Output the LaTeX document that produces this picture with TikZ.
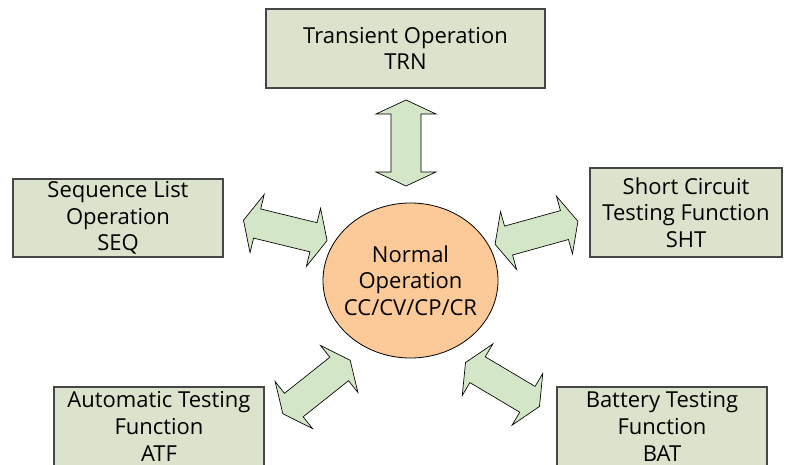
\documentclass[tikz,border=0pt]{standalone}
\usepackage{fontspec}
\setmainfont{Open Sans}
\usetikzlibrary{shapes.geometric}
\definecolor{boxfill}{RGB}{220,227,204}
\definecolor{boxline}{RGB}{70,70,70}
\definecolor{arrowfill}{RGB}{211,231,200}
\definecolor{ovalfill}{RGB}{251,202,152}
\begin{document}
\begin{tikzpicture}[x=0.75pt,y=-0.75pt,
  labeltext/.style={align=center, font=\fontsize{16.5}{20}\selectfont, inner sep=0pt},
  modebox/.style={labeltext, draw=boxline, line width=0.8pt, fill=boxfill},
  core/.style={draw=black, line width=0.6pt, fill=ovalfill, ellipse,
    minimum width=131.25pt, minimum height=116.25pt, inner sep=0pt},
  blockarrow/.pic={
    \draw[draw=black, line width=0.5pt, fill=arrowfill, line join=miter]
      (-43,0) -- (-29,-30) -- (-29,-15) -- (29,-15) -- (29,-30) -- (43,0)
      -- (29,30) -- (29,15) -- (-29,15) -- (-29,30) -- cycle;
  }]
\useasboundingbox (0,0) rectangle (788,464);

% operating modes
\node[modebox, minimum width=209.25pt, minimum height=59.25pt] (trn) at (405.5,48.5)
  {Transient Operation\\TRN};
\node[modebox, minimum width=157.5pt, minimum height=58.5pt] (seq) at (118,218)
  {Sequence List\\Operation\\SEQ};
\node[modebox, minimum width=144pt, minimum height=66.75pt] (sht) at (686,212.5)
  {Short Circuit\\Testing Function\\SHT};
\node[modebox, minimum width=157.5pt, minimum height=59.25pt] (atf) at (159,426.5)
  {Automatic Testing\\Function\\ATF};
\node[modebox, minimum width=157.5pt, minimum height=59.25pt] (bat) at (662,426.5)
  {Battery Testing\\Function\\BAT};

% central mode: fixed-size oval with its label on top
\node[core] (norm) at (410.5,280.5) {};
\node[labeltext] (norm-label) at (norm.center) {Normal\\Operation\\CC/CV/CP/CR};

% two-way links between the central mode and each other mode
\coordinate (l-trn) at (406,143);
\coordinate (l-seq) at (285.3,230.4);
\coordinate (l-sht) at (536.5,232.8);
\coordinate (l-atf) at (316.5,387);
\coordinate (l-bat) at (502.5,384.5);
\pic[rotate=90]   at (l-trn) {blockarrow};
\pic[rotate=-13.7] at (l-seq) {blockarrow};
\pic[rotate=15.5]  at (l-sht) {blockarrow};
\pic[rotate=38.5]  at (l-atf) {blockarrow};
\pic[rotate=-30.7] at (l-bat) {blockarrow};
\end{tikzpicture}
\end{document}
